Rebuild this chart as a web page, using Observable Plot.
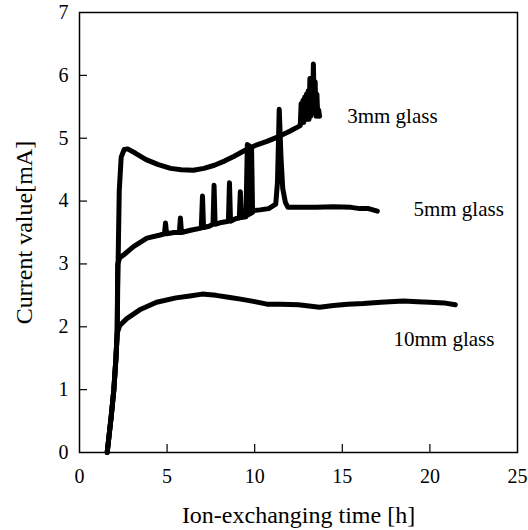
<!DOCTYPE html>
<html>
<head>
<meta charset="utf-8">
<script src="https://cdn.jsdelivr.net/npm/d3@7"></script>
<script src="https://cdn.jsdelivr.net/npm/@observablehq/plot@0.6"></script>
<style>
  html, body { margin: 0; padding: 0; background: #fff; }
  #chart { width: 528px; height: 530px; }
  #chart svg, #chart svg text { font-family: 'Liberation Serif', 'Times New Roman', serif !important; font-variant: normal !important; }
</style>
</head>
<body>
<div id="chart"></div>
<script>
// ---- Data ----
const xTicks = [0, 5, 10, 15, 20, 25];
const yTicks = [0, 1, 2, 3, 4, 5, 6, 7];

const t3 = [1.58, 1.8, 1.96, 2.08, 2.15, 2.18, 2.22, 2.27, 2.38, 2.55, 2.75, 3.2, 3.8, 4.5, 5.2, 5.8, 6.5, 7.1, 7.7, 8.3, 8.8, 9.4, 10.0, 10.7, 11.4, 12.0, 12.6,
  12.65, 12.7, 12.75, 12.8, 12.85, 12.9, 12.95, 13.0, 13.05, 13.1, 13.15, 13.2, 13.25, 13.3, 13.35, 13.4, 13.45, 13.5, 13.55, 13.6, 13.65, 13.7];
const i3 = [0, 0.55, 1.0, 1.5, 1.9, 2.6, 3.3, 4.17, 4.7, 4.82, 4.83, 4.76, 4.66, 4.58, 4.52, 4.5, 4.49, 4.52, 4.57, 4.64, 4.71, 4.8, 4.88, 4.95, 5.03, 5.11, 5.2,
  5.55, 5.25, 5.6, 5.25, 5.65, 5.3, 5.7, 5.3, 5.75, 5.3, 5.95, 5.35, 5.95, 5.4, 6.18, 5.4, 5.9, 5.35, 5.7, 5.35, 5.45, 5.35];

const t5 = [1.58, 1.8, 1.96, 2.08, 2.15, 2.18, 2.3, 2.55, 3.1, 3.85, 4.6, 4.85, 4.91, 4.97, 5.4, 5.7, 5.76, 5.82, 6.4, 6.95, 7.02, 7.08, 7.4, 7.62, 7.68, 7.74, 8.1, 8.5, 8.56, 8.62, 8.9, 9.12, 9.18, 9.24, 9.5, 9.58, 9.63, 9.7, 9.76, 9.82, 9.88, 9.95, 10.3, 10.8, 11.2, 11.3, 11.4, 11.5, 11.6, 11.75, 11.9, 12.5, 13.5, 14.5, 15.5, 16.0, 16.5, 17.0];
const i5 = [0, 0.55, 1.0, 1.5, 1.9, 3.0, 3.1, 3.15, 3.28, 3.41, 3.46, 3.48, 3.65, 3.48, 3.5, 3.5, 3.73, 3.5, 3.54, 3.57, 4.08, 3.58, 3.6, 3.63, 4.25, 3.63, 3.66, 3.68, 4.29, 3.68, 3.72, 3.73, 4.15, 3.74, 3.75, 4.9, 3.78, 4.88, 3.8, 4.85, 3.82, 3.85, 3.86, 3.88, 3.95, 4.3, 5.46, 4.7, 4.2, 3.98, 3.9, 3.9, 3.9, 3.91, 3.9, 3.88, 3.88, 3.84];

const t10 = [1.58, 1.8, 1.96, 2.08, 2.15, 2.3, 2.7, 3.5, 4.4, 5.5, 6.3, 7.0, 7.8, 8.5, 9.2, 10.0, 10.7, 11.5, 12.5, 13.7, 14.5, 15.3, 16.2, 17.2, 18.5, 19.3, 20.0, 20.8, 21.45];
const i10 = [0, 0.55, 1.0, 1.5, 1.9, 2.02, 2.13, 2.28, 2.39, 2.46, 2.49, 2.52, 2.5, 2.47, 2.44, 2.4, 2.36, 2.36, 2.35, 2.31, 2.34, 2.36, 2.37, 2.39, 2.41, 2.4, 2.39, 2.38, 2.35];

const seriesNames = ["3mm glass", "5mm glass", "10mm glass"];
const labelX = [15.28, 19.06, 17.92];
const labelY = [5.35, 3.87, 1.80];

const xTitle = "Ion-exchanging time [h]";
const yTitle = "Current value[mA]";

// ---- Build tables ----
const toRows = (ts, vs, name) => ts.map((t, k) => ({t, v: vs[k], name}));
const rows = [
  ...toRows(t3, i3, seriesNames[0]),
  ...toRows(t5, i5, seriesNames[1]),
  ...toRows(t10, i10, seriesNames[2])
];
const labels = seriesNames.map((n, k) => ({name: n, x: labelX[k], y: labelY[k]}));

const W = 528, H = 530, mL = 79, mR = 11, mT = 12, mB = 78;
const innerW = W - mL - mR, innerH = H - mT - mB;
const font = "'Liberation Serif', 'Times New Roman', serif";

const chart = Plot.plot({
  width: W,
  height: H,
  marginLeft: mL,
  marginRight: mR,
  marginTop: mT,
  marginBottom: mB,
  style: {fontFamily: font, fontSize: "20px", color: "black", background: "white"},
  x: {domain: [0, 25], axis: null},
  y: {domain: [0, 7], axis: null},
  marks: [
    Plot.line(rows, {x: "t", y: "v", z: "name", stroke: "black", strokeWidth: 5, strokeLinejoin: "round", strokeLinecap: "round"}),
    Plot.tickY(yTicks.slice(1, -1), {y: d => d, stroke: "black", strokeWidth: 1.2, insetRight: innerW - 8}),
    Plot.tickX(xTicks.slice(1, -1), {x: d => d, stroke: "black", strokeWidth: 1.2, insetTop: innerH - 8}),
    Plot.frame({stroke: "black", strokeWidth: 1.5}),
    Plot.text(xTicks, {x: d => d, text: d => String(d), frameAnchor: "bottom", dy: 16, textAnchor: "middle", lineAnchor: "top", fontSize: 20, fill: "black", fontFamily: font}),
    Plot.text(yTicks, {y: d => d, text: d => String(d), frameAnchor: "left", dx: -11, textAnchor: "end", lineAnchor: "middle", fontSize: 20, fill: "black", fontFamily: font}),
    Plot.text(labels, {x: "x", y: "y", text: "name", textAnchor: "start", lineAnchor: "middle", fontSize: 21, fill: "black", fontFamily: font}),
    Plot.text([xTitle], {frameAnchor: "bottom", dy: 63, textAnchor: "middle", lineAnchor: "middle", fontSize: 24, fill: "black", fontFamily: font}),
    Plot.text([yTitle], {frameAnchor: "left", dx: -55, rotate: -90, textAnchor: "middle", lineAnchor: "middle", fontSize: 24, fill: "black", fontFamily: font})
  ]
});
document.getElementById("chart").appendChild(chart);
</script>
</body>
</html>
